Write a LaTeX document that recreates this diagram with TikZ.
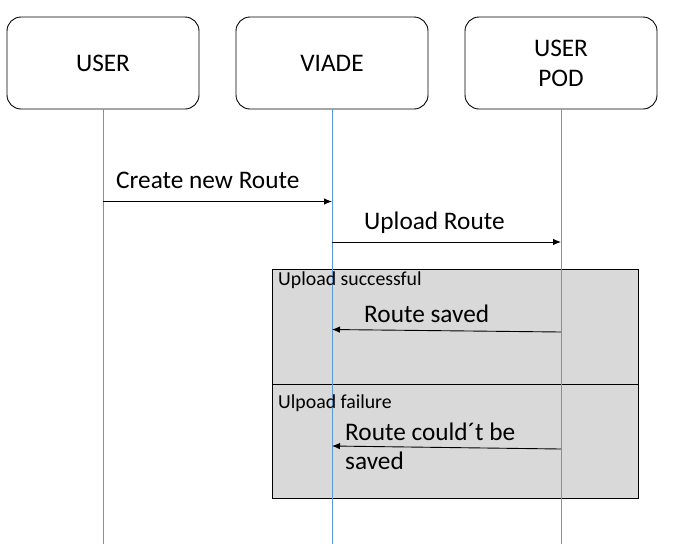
\documentclass[tikz,border=0pt]{standalone}
\usepackage{fontspec}
\setmainfont{Carlito}
\usetikzlibrary{arrows.meta}
\definecolor{lifeblue}{HTML}{5B9BD5}
\definecolor{fragray}{HTML}{D9D9D9}
\tikzset{
  actor/.style={draw=black, line width=0.9pt, rounded corners=14pt, minimum width=192pt, minimum height=92pt, inner sep=0pt, align=center, font=\fontsize{25.3}{29}\selectfont},
  lifeline/.style={draw=lifeblue, line width=0.9pt},
  msg/.style={draw=black, line width=0.9pt, -{Latex[length=8pt,width=6.5pt]}},
  biglabel/.style={anchor=base west, inner sep=0pt, font=\fontsize{25.3}{29}\selectfont},
  smalllabel/.style={anchor=base west, inner sep=0pt, font=\fontsize{19.8}{23}\selectfont},
  fragment/.style={draw=black, line width=0.9pt, fill=fragray}
}
\begin{document}
\begin{tikzpicture}[x=1pt,y=-1pt]
\useasboundingbox (0,0) rectangle (679,544);
% actors
\node[actor] (user) at (103,63) {USER};
\node[actor] (viade) at (332,63) {VIADE};
\node[actor] (pod) at (561,63) {USER\\[1pt]POD};
% fragment
\draw[fragment] (272,269) rectangle (638,384);
\draw[fragment] (272,384) rectangle (638,498);
% lifeline ends
\coordinate (userend) at (103,544);
\coordinate (viadeend) at (332,544);
\coordinate (podend) at (561,544);
\draw[lifeline] (user.south) -- (userend);
\draw[lifeline] (viade.south) -- (viadeend);
\draw[lifeline] (pod.south) -- (podend);
% message points
\coordinate (m1s) at (103,201.5);
\coordinate (m1e) at (332,201.5);
\coordinate (m2s) at (332,242);
\coordinate (m2e) at (561,242);
\coordinate (m3s) at (561,332);
\coordinate (m3e) at (332,329.5);
\coordinate (m4s) at (561,449);
\coordinate (m4e) at (332,446);
\draw[msg] (m1s) -- (m1e);
\draw[msg] (m2s) -- (m2e);
\draw[msg] (m3s) -- (m3e);
\draw[msg] (m4s) -- (m4e);
% labels
\node[biglabel] (l1) at (116,188) {Create new Route};
\node[biglabel] (l2) at (364,229) {Upload Route};
\node[smalllabel] (g1) at (278,285) {Upload successful};
\node[biglabel] (l3) at (364,322) {Route saved};
\node[smalllabel] (g2) at (278,408) {Ulpoad failure};
\node[biglabel] (l4) at (345,440) {Route could´t be};
\node[biglabel] (l5) at (345,469) {saved};
\end{tikzpicture}
\end{document}
